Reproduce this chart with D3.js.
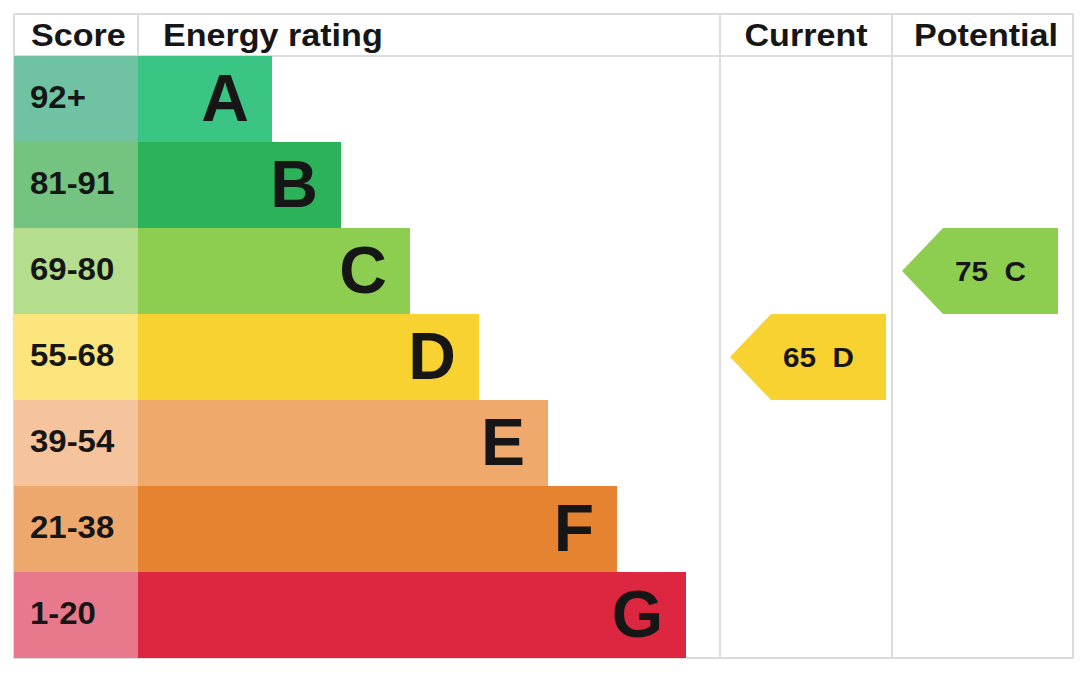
<!DOCTYPE html>
<html>
<head>
<meta charset="utf-8">
<script src="https://cdn.jsdelivr.net/npm/d3@7"></script>
<style>
  html, body { margin: 0; padding: 0; background: #fff; }
  svg { display: block; font-family: "Liberation Sans", Arial, sans-serif; }
</style>
</head>
<body>
<svg id="chart" width="1080" height="698"></svg>
<script>
// bands, top (best) to bottom (worst)
const bands = ['A', 'B', 'C', 'D', 'E', 'F', 'G'];
const scoreLabels = ['92+', '81-91', '69-80', '55-68', '39-54', '21-38', '1-20'];
const bandMin = [92, 81, 69, 55, 39, 21, 1];
const barColors = ['#3ac584', '#2cb25b', '#8dcd4f', '#f8d231', '#f0a96c', '#e58331', '#dd263f'];
const scoreColors = ['#6fc3a3', '#74c381', '#b4dd8d', '#fbe57c', '#f6c49c', '#eda86e', '#e8798d'];
const headers = ['Score', 'Energy rating', 'Current', 'Potential'];
const current = 65;
const potential = 75;

const svg = d3.select('#chart');

const frameL = 14, frameR = 1073, frameT = 14, headerBottom = 56, frameB = 658;
const scoreRight = 138, curLeft = 720, potLeft = 892;

const y = d3.scaleBand().domain(bands).range([headerBottom, frameB]).padding(0);
const barEnd = d3.scaleLinear().domain([0, 6]).range([272, 686]);

const bandOf = s => bands[bandMin.findIndex(m => s >= m)];

// text that is a bit wider than the font draws it
const label = (g, x, yy, txt, size, anchor, sx) =>
  g.append('text')
    .attr('transform', `translate(${x},${yy}) scale(${sx},1)`)
    .attr('text-anchor', anchor)
    .style('font-size', size + 'px')
    .style('font-weight', 'bold')
    .style('fill', '#161616')
    .style('white-space', 'pre')
    .text(txt);

// outer frame and grid lines
const grid = svg.append('g').attr('stroke', '#dcdcdc').attr('stroke-width', 2).attr('fill', 'none');
grid.append('rect').attr('x', frameL).attr('y', frameT).attr('width', frameR - frameL).attr('height', frameB - frameT);
grid.append('line').attr('x1', frameL).attr('x2', frameR).attr('y1', headerBottom).attr('y2', headerBottom);
[scoreRight, curLeft, potLeft].forEach(x => {
  grid.append('line').attr('x1', x).attr('x2', x).attr('y1', frameT).attr('y2', frameB);
});

// headers
const headerX = [31, 163, 806, 986];
const headerAnchor = ['start', 'start', 'middle', 'middle'];
headers.forEach((h, i) => label(svg, headerX[i], 46, h, 31, headerAnchor[i], 1.1));

// score cells
svg.selectAll('.score')
  .data(bands)
  .enter()
  .append('rect')
  .attr('x', frameL)
  .attr('y', d => y(d))
  .attr('width', scoreRight - frameL)
  .attr('height', y.bandwidth())
  .attr('fill', (d, i) => scoreColors[i]);

bands.forEach((b, i) => label(svg, 30, y(b) + y.bandwidth() / 2 + 9, scoreLabels[i], 32, 'start', 1.03));

// rating bars
svg.selectAll('.bar')
  .data(bands)
  .enter()
  .append('rect')
  .attr('x', scoreRight)
  .attr('y', d => y(d))
  .attr('width', (d, i) => barEnd(i) - scoreRight)
  .attr('height', y.bandwidth())
  .attr('fill', (d, i) => barColors[i]);

bands.forEach((b, i) => label(svg, barEnd(i) - 23, y(b) + y.bandwidth() / 2 + 22, b, 66, 'end', 1));

// arrows for current / potential
const arrows = [
  { score: current, x0: curLeft + 10, x1: 886 },
  { score: potential, x0: potLeft + 10, x1: 1058 }
];

arrows.forEach(a => {
  const band = bandOf(a.score);
  const i = bands.indexOf(band);
  const y0 = y(band), h = y.bandwidth(), notch = 41;
  const pts = [
    [a.x0, y0 + h / 2], [a.x0 + notch, y0], [a.x1, y0],
    [a.x1, y0 + h], [a.x0 + notch, y0 + h]
  ];
  svg.append('path')
    .attr('d', d3.line()(pts) + 'Z')
    .attr('fill', barColors[i]);
  label(svg, (a.x0 + notch + a.x1) / 2 - 10, y0 + h / 2 + 10, a.score + '  ' + band, 27, 'middle', 1.1);
});
</script>
</body>
</html>
